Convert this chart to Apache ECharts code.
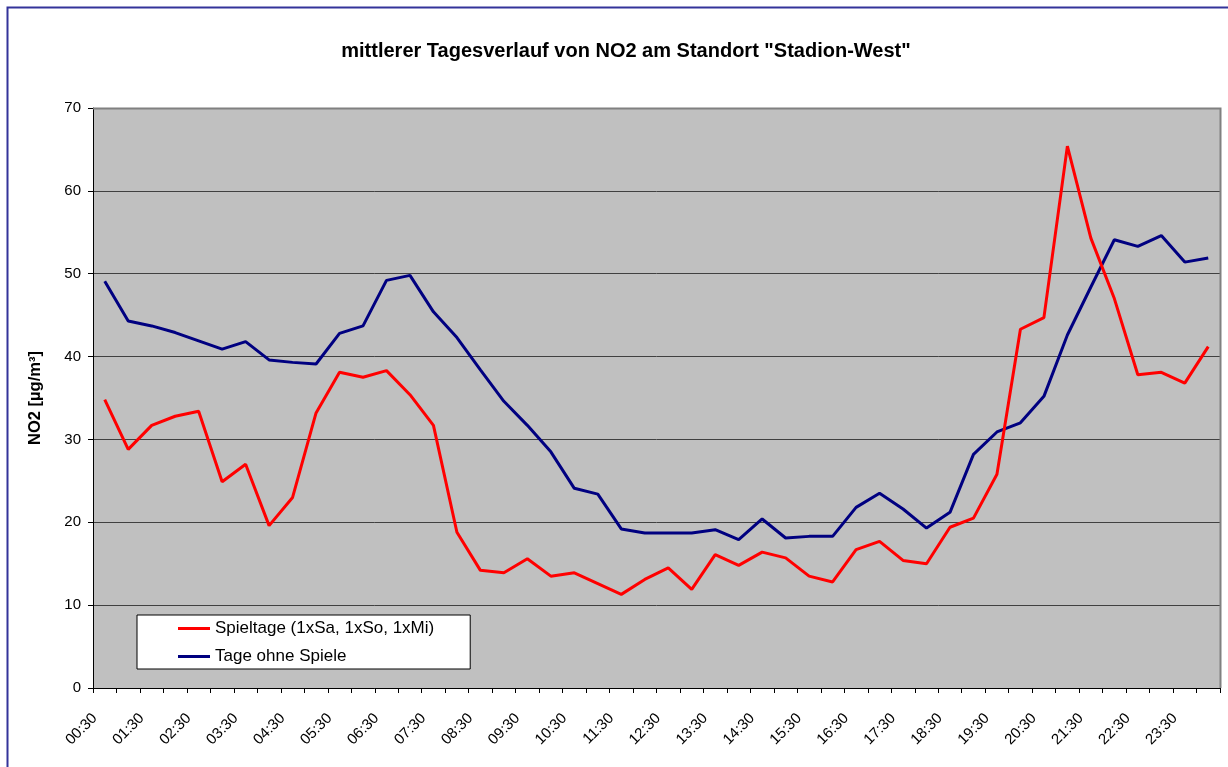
<!DOCTYPE html>
<html>
<head>
<meta charset="utf-8">
<script src="https://cdn.jsdelivr.net/npm/echarts@6/dist/echarts.min.js"></script>
<style>
html,body{margin:0;padding:0;background:#fff;}
#chart{width:1228px;height:767px;}
</style>
</head>
<body>
<div id="chart"></div>
<script>
// Zeiten (halbstuendlich)
var times = ["00:30","01:00","01:30","02:00","02:30","03:00","03:30","04:00","04:30","05:00","05:30","06:00",
             "06:30","07:00","07:30","08:00","08:30","09:00","09:30","10:00","10:30","11:00","11:30","12:00",
             "12:30","13:00","13:30","14:00","14:30","15:00","15:30","16:00","16:30","17:00","17:30","18:00",
             "18:30","19:00","19:30","20:00","20:30","21:00","21:30","22:00","22:30","23:00","23:30","24:00"];
// Spieltage (1xSa, 1xSo, 1xMi)
var spieltage = [34.8,28.8,31.7,32.8,33.4,24.9,27.0,19.6,23.0,33.2,38.1,37.5,
                 38.3,35.4,31.7,18.8,14.2,13.9,15.6,13.5,13.9,12.6,11.3,13.1,
                 14.5,11.9,16.1,14.8,16.4,15.7,13.5,12.8,16.7,17.7,15.4,15.0,
                 19.4,20.5,25.8,43.3,44.7,65.4,54.3,47.0,37.8,38.1,36.8,41.2];
// Tage ohne Spiele
var ohneSpiele = [49.1,44.3,43.7,42.9,41.9,40.9,41.8,39.6,39.3,39.1,42.8,43.7,
                  49.2,49.8,45.4,42.3,38.4,34.6,31.7,28.5,24.1,23.4,19.2,18.7,
                  18.7,18.7,19.1,17.9,20.4,18.1,18.3,18.3,21.8,23.5,21.6,19.3,
                  21.2,28.2,30.9,32.0,35.2,42.6,48.4,54.1,53.3,54.6,51.4,51.9];

var myChart = echarts.init(document.getElementById('chart'));
var option = {
    animation:false,
    backgroundColor:"#fff",
    title:{
        text:'mittlerer Tagesverlauf von NO2 am Standort "Stadion-West"',
        left:621,
        textAlign:"center",
        top:36,
        textStyle:{
            fontFamily:"Liberation Sans",
            fontSize:20,
            fontWeight:"bold",
            color:"#000"
        }
    },
    graphic:[
        {   // Rahmen um das Diagramm
            type:"rect",
            shape:{x:7.5,y:7.5,width:1260,height:800},
            style:{fill:null,stroke:"#33339a",lineWidth:2},
            silent:true
        },
        {   // Rahmen der Zeichenflaeche oben/rechts
            type:"polyline",
            shape:{points:[[93,108.5],[1220.5,108.5],[1220.5,688]]},
            style:{fill:null,stroke:"#808080",lineWidth:2},
            z:10,
            silent:true
        }
    ],
    legend:{
        orient:"vertical",
        left:137,
        top:615,
        padding:[5,36,4,41],
        backgroundColor:"#fff",
        borderColor:"#000",
        borderWidth:1,
        itemWidth:32,
        itemHeight:3,
        itemGap:11,
        icon:"rect",
        textStyle:{
            fontFamily:"Liberation Sans",
            fontSize:17,
            color:"#000"
        },
        data:["Spieltage (1xSa, 1xSo, 1xMi)","Tage ohne Spiele"]
    },
    grid:{
        left:93,
        top:108,
        width:1127,
        height:580
    },
    xAxis:{
        type:"category",
        data:times,
        boundaryGap:true,
        axisLine:{lineStyle:{color:"#000",width:1}},
        axisTick:{show:true,alignWithLabel:false,interval:0,length:5,lineStyle:{color:"#000"}},
        axisLabel:{
            interval:1,
            rotate:45,
            margin:18,
            padding:[0,14,0,0],
            fontFamily:"Liberation Sans",
            fontSize:15,
            color:"#000"
        },
        splitLine:{show:false}
    },
    yAxis:{
        type:"value",
        min:0,
        max:70,
        interval:10,
        name:"NO2 [µg/m³]",
        nameLocation:"middle",
        nameGap:49,
        nameRotate:90,
        nameTextStyle:{
            fontFamily:"Liberation Sans",
            fontSize:16.5,
            fontWeight:"bold",
            color:"#000"
        },
        axisLine:{show:true,lineStyle:{color:"#000",width:1}},
        axisTick:{show:true,inside:false,length:5,lineStyle:{color:"#000"}},
        axisLabel:{
            margin:12,
            fontFamily:"Liberation Sans",
            fontSize:15,
            color:"#000"
        },
        splitLine:{show:true,lineStyle:{color:"#404040",width:1}},
        splitArea:{show:true,areaStyle:{color:["#c0c0c0","#c0c0c0"]}}
    },
    series:[
        {
            name:"Spieltage (1xSa, 1xSo, 1xMi)",
            type:"line",
            data:spieltage,
            symbol:"none",
            color:"#ff0000",
            lineStyle:{width:3,color:"#ff0000"},
            z:3
        },
        {
            name:"Tage ohne Spiele",
            type:"line",
            data:ohneSpiele,
            symbol:"none",
            color:"#000080",
            lineStyle:{width:3,color:"#000080"},
            z:2
        }
    ]
};
myChart.setOption(option);
</script>
</body>
</html>
